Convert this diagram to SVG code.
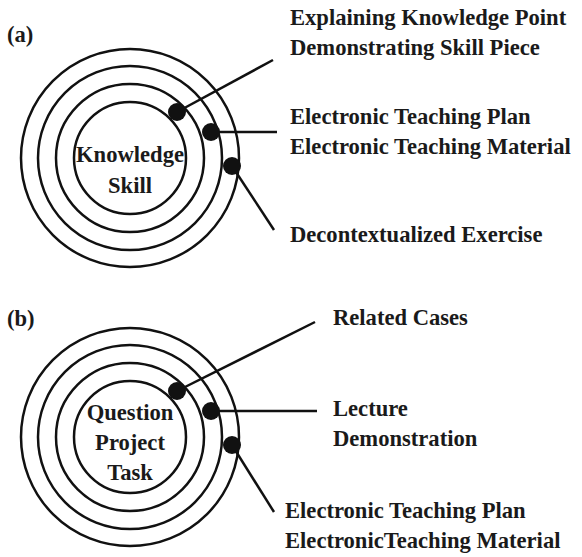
<svg xmlns="http://www.w3.org/2000/svg" width="582" height="557" viewBox="0 0 582 557">
<style>
.ring{fill:none;stroke:#111;stroke-width:2.5}
.dot{fill:#111}
.ln{stroke:#111;stroke-width:2.5;fill:none}
text{font-family:"Liberation Serif","Times New Roman",serif;font-weight:bold;font-size:22.6px;fill:#1a1a1a}
.c{text-anchor:middle}
</style>
<rect width="582" height="557" fill="#fff"/>
<text x="7" y="42">(a)</text>
<text x="7" y="326">(b)</text>
<g id="nodeA">
<circle class="ring" cx="130" cy="158" r="109"/>
<circle class="ring" cx="130" cy="158" r="92"/>
<circle class="ring" cx="130" cy="158" r="74"/>
<circle class="ring" cx="130" cy="158" r="56"/>
<text class="c" x="130" y="162">Knowledge</text>
<text class="c" x="130" y="193">Skill</text>
</g>
<g id="nodeB">
<circle class="ring" cx="130" cy="437" r="109"/>
<circle class="ring" cx="130" cy="437" r="92"/>
<circle class="ring" cx="130" cy="437" r="74"/>
<circle class="ring" cx="130" cy="437" r="56"/>
<text class="c" x="130" y="420">Question</text>
<text class="c" x="130" y="450">Project</text>
<text class="c" x="130" y="480">Task</text>
</g>
<g id="connectors">
<line class="ln" x1="177" y1="112" x2="273" y2="60"/>
<line class="ln" x1="211" y1="132" x2="277" y2="132"/>
<line class="ln" x1="232" y1="166" x2="274" y2="230"/>
<line class="ln" x1="177" y1="391" x2="315" y2="322"/>
<line class="ln" x1="211" y1="411" x2="317" y2="411"/>
<line class="ln" x1="232" y1="445" x2="274" y2="512"/>
<circle class="dot" cx="177" cy="112" r="9"/>
<circle class="dot" cx="211" cy="132" r="9"/>
<circle class="dot" cx="232" cy="166" r="9"/>
<circle class="dot" cx="177" cy="391" r="9"/>
<circle class="dot" cx="211" cy="411" r="9"/>
<circle class="dot" cx="232" cy="445" r="9"/>
</g>
<g id="labelA1"><text x="290" y="25">Explaining Knowledge Point</text><text x="290" y="55">Demonstrating Skill Piece</text></g>
<g id="labelA2"><text x="290" y="124">Electronic Teaching Plan</text><text x="290" y="154">Electronic Teaching Material</text></g>
<g id="labelA3"><text x="290" y="242">Decontextualized Exercise</text></g>
<g id="labelB1"><text x="333" y="325">Related Cases</text></g>
<g id="labelB2"><text x="333" y="416">Lecture</text><text x="333" y="446">Demonstration</text></g>
<g id="labelB3"><text x="285" y="518">Electronic Teaching Plan</text><text x="285" y="548">ElectronicTeaching Material</text></g>
</svg>
